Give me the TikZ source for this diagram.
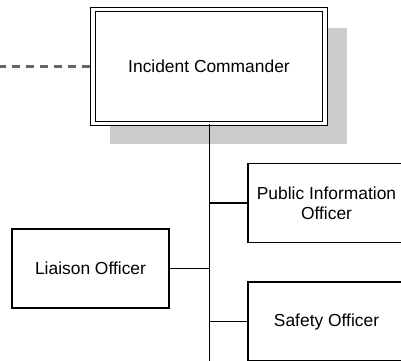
\documentclass[tikz,border=0pt]{standalone}
\usepackage{fontspec}
\setmainfont{Liberation Sans}
\usetikzlibrary{shadows}

\begin{document}
\begin{tikzpicture}[x=0.5pt, y=-0.5pt,
                    align=center,
                    every node/.style={text centered, font=\fontsize{8.7}{10}\selectfont},
                    officer/.style={draw, line width=0.6pt, fill=white,
                                    minimum width=78.5pt, minimum height=39.5pt, inner sep=0pt},
                    commander/.style={officer, double, double distance=1.6pt,
                                      minimum width=116pt, minimum height=57pt,
                                      drop shadow={shadow xshift=9.5pt, shadow yshift=-9.5pt,
                                                   shadow scale=1.025,
                                                   fill=black!20, opacity=1}}]
      \useasboundingbox (0, 0) rectangle (401, 360);
      \clip (0, 0) rectangle (401, 360);
      \node[commander] (incident_commander) at (209, 66.5) {Incident Commander};
      \node[officer] (public_information) at (326.5, 203) {Public Information\\Officer};
      \node[officer] (liaison) at (90.5, 268.5) {Liaison Officer};
      \node[officer] (safety) at (326.5, 321.5) {Safety Officer};
      \coordinate (left_end) at (-2, 66.5);
      \coordinate (bottom_end) at (209.5, 362);
      \draw[dash pattern=on 4pt off 3pt, line width=1.1pt, black!60] (left_end) -- (incident_commander);
      \draw[line width=0.6pt] (incident_commander.south -| bottom_end) -- (bottom_end);
      \draw[line width=0.6pt] (public_information) -- (public_information -| bottom_end);
      \draw[line width=0.6pt] (liaison) -- (liaison -| bottom_end);
      \draw[line width=0.6pt] (safety) -- (safety -| bottom_end);
    \end{tikzpicture}
\end{document}
